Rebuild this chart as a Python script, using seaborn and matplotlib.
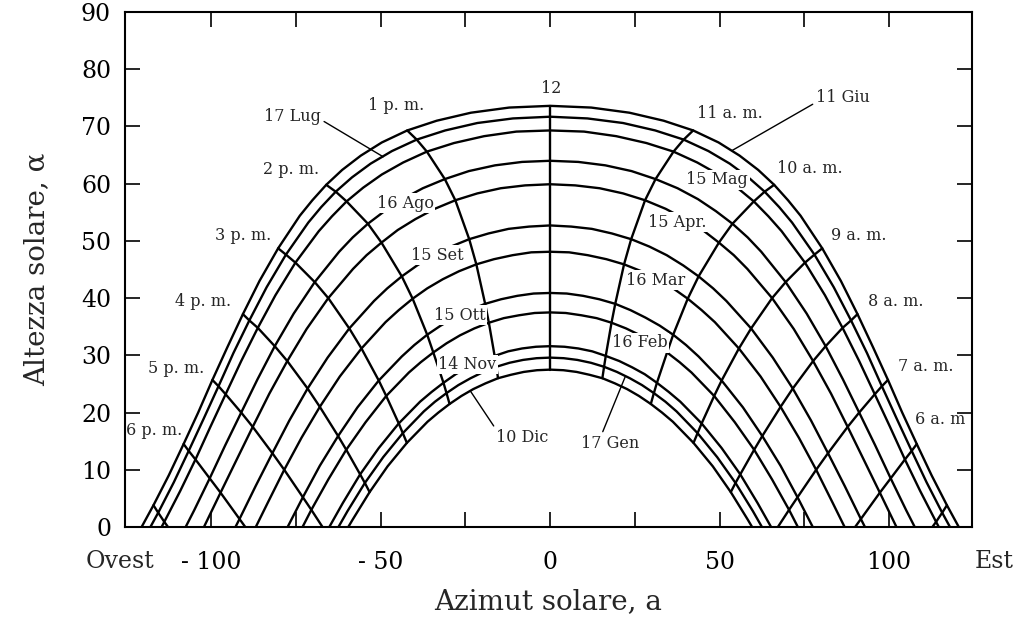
import pandas as pd
import seaborn as sns
import matplotlib
matplotlib.use("Agg")
import matplotlib.pyplot as plt

# ore solari del mattino (il pomeriggio e' simmetrico rispetto a mezzogiorno)
ore = [12.0, 11.75, 11.5, 11.25, 11.0, 10.75, 10.5, 10.25, 10.0, 9.75, 9.5,
       9.0, 8.5, 8.0, 7.5, 7.0, 6.5, 6.0, 5.5, 5.0]

# giorni medi dei mesi, dal piu' basso al piu' alto
giorni = ["10 Dic", "17 Gen", "14 Nov", "16 Feb", "15 Ott", "16 Mar",
          "15 Set", "15 Apr", "16 Ago", "15 Mag", "17 Lug", "11 Giu"]

# azimut (gradi verso est) e altezza solare (gradi)
az_dic = [0, 3.9, 7.8, 11.6, 15.4, 19.1, 22.7, 26.2, 29.7, 33.0, 36.2, 42.3, 48.0, 53.3, 58.3]
alt_dic = [27.5, 27.4, 27.1, 26.6, 26.0, 25.1, 24.1, 22.9, 21.5, 20.0, 18.4, 14.7, 10.6, 6.1, 1.3]
az_gen = [0, 4.0, 8.0, 12.0, 15.9, 19.7, 23.5, 27.1, 30.6, 34.0, 37.3, 43.5, 49.3, 54.7, 59.8]
alt_gen = [29.6, 29.5, 29.2, 28.7, 28.0, 27.1, 26.0, 24.8, 23.4, 21.9, 20.2, 16.4, 12.2, 7.7, 2.8]
az_nov = [0, 4.2, 8.3, 12.4, 16.4, 20.4, 24.2, 27.9, 31.5, 35.0, 38.4, 44.7, 50.6, 56.1, 61.2]
alt_nov = [31.6, 31.5, 31.2, 30.7, 29.9, 29.0, 27.9, 26.7, 25.2, 23.6, 21.9, 18.1, 13.8, 9.2, 4.2]
az_feb = [0, 4.6, 9.2, 13.7, 18.1, 22.4, 26.6, 30.6, 34.5, 38.2, 41.7, 48.4, 54.5, 60.2, 65.5, 70.5]
alt_feb = [37.5, 37.4, 37.0, 36.5, 35.7, 34.7, 33.5, 32.1, 30.5, 28.8, 27.0, 22.9, 18.3, 13.5, 8.3, 3.0]
az_ott = [0, 4.9, 9.7, 14.5, 19.2, 23.7, 28.1, 32.3, 36.3, 40.1, 43.8, 50.6, 56.9, 62.6, 68.0, 73.0]
alt_ott = [40.9, 40.8, 40.4, 39.8, 39.0, 37.9, 36.6, 35.2, 33.6, 31.8, 29.8, 25.6, 20.9, 15.9, 10.7, 5.2]
az_mar = [0, 5.6, 11.1, 16.6, 21.8, 26.9, 31.7, 36.3, 40.6, 44.7, 48.6, 55.7, 62.1, 68.0, 73.4, 78.5, 83.4]
alt_mar = [48.1, 48.0, 47.5, 46.8, 45.9, 44.7, 43.3, 41.7, 39.9, 37.9, 35.8, 31.2, 26.3, 21.0, 15.6, 10.0, 4.2]
az_set = [0, 6.2, 12.3, 18.2, 23.9, 29.3, 34.4, 39.3, 43.8, 48.1, 52.0, 59.3, 65.7, 71.6, 77.0, 82.0,
          86.9, 91.7]
alt_set = [52.7, 52.5, 52.1, 51.3, 50.3, 49.0, 47.5, 45.7, 43.8, 41.7, 39.5, 34.7, 29.6, 24.2, 18.6,
           12.9, 7.2, 1.4]
az_apr = [0, 7.4, 14.6, 21.5, 28.0, 34.1, 39.8, 45.0, 49.8, 54.2, 58.2, 65.5, 71.9, 77.6, 82.9, 87.8,
          92.6, 97.3]
alt_apr = [59.9, 59.7, 59.2, 58.3, 57.1, 55.6, 53.8, 51.9, 49.7, 47.5, 45.1, 40.0, 34.6, 29.0, 23.3,
           17.5, 11.7, 6.0]
az_ago = [0, 8.3, 16.3, 24.0, 31.1, 37.6, 43.6, 48.9, 53.8, 58.3, 62.3, 69.5, 75.7, 81.3, 86.4, 91.2,
          95.9, 100.5, 105.1]
alt_ago = [64.0, 63.8, 63.2, 62.2, 60.8, 59.2, 57.3, 55.2, 53.0, 50.6, 48.1, 42.8, 37.3, 31.6, 25.8,
           20.0, 14.3, 8.5, 2.9]
az_mag = [0, 10.0, 19.5, 28.4, 36.4, 43.4, 49.7, 55.2, 60.1, 64.4, 68.3, 75.2, 81.1, 86.3, 91.2, 95.8,
          100.3, 104.7, 109.2, 113.9]
alt_mag = [69.3, 69.1, 68.3, 67.1, 65.6, 63.7, 61.6, 59.3, 56.9, 54.3, 51.7, 46.2, 40.5, 34.8, 29.0,
           23.2, 17.5, 11.8, 6.3, 0.9]
az_lug = [0, 11.0, 21.5, 31.0, 39.4, 46.7, 53.0, 58.5, 63.3, 67.6, 71.4, 78.0, 83.7, 88.8, 93.5, 97.9,
          102.3, 106.7, 111.1, 115.7]
alt_lug = [71.7, 71.4, 70.6, 69.3, 67.7, 65.7, 63.5, 61.1, 58.6, 55.9, 53.2, 47.6, 41.9, 36.1, 30.4,
           24.6, 18.9, 13.3, 7.8, 2.5]
az_giu = [0, 12.1, 23.4, 33.5, 42.2, 49.7, 55.9, 61.4, 66.1, 70.2, 73.9, 80.3, 85.8, 90.7, 95.3, 99.7,
          103.9, 108.2, 112.6, 117.1]
alt_giu = [73.6, 73.3, 72.4, 71.0, 69.3, 67.2, 64.9, 62.4, 59.8, 57.1, 54.4, 48.7, 43.0, 37.2, 31.4,
           25.7, 20.0, 14.5, 9.0, 3.8]

# azimut dell'alba (altezza zero) per ogni giorno
az_alba = [59.6, 62.5, 65.2, 73.1, 77.5, 86.9, 92.9, 102.2, 107.6, 114.7, 118.0, 120.6]

# dove le linee delle 7, 6 e 5 toccano l'orizzonte
ore_orizzonte = [7.0, 6.0, 5.0]
az_orizzonte = [67.2, 90.0, 112.8]

az_giorni = [az_dic, az_gen, az_nov, az_feb, az_ott, az_mar,
             az_set, az_apr, az_ago, az_mag, az_lug, az_giu]
alt_giorni = [alt_dic, alt_gen, alt_nov, alt_feb, alt_ott, alt_mar,
              alt_set, alt_apr, alt_ago, alt_mag, alt_lug, alt_giu]

# curve dei giorni: alba -> mezzogiorno -> tramonto (a ovest azimut negativo)
righe = []
for g, az, alt, a0 in zip(giorni, az_giorni, alt_giorni, az_alba):
    xs = [a0] + az[::-1] + [-a for a in az[1:]] + [-a0]
    ys = [0] + alt[::-1] + alt[1:] + [0]
    for i, (x, y) in enumerate(zip(xs, ys)):
        righe.append((g, i, x, y))
df_giorni = pd.DataFrame(righe, columns=["giorno", "i", "az", "alt"])

# linee orarie: stessi punti, presi alle ore intere
righe = []
for h in [12.0, 11.0, 10.0, 9.0, 8.0, 7.0, 6.0, 5.0]:
    k = ore.index(h)
    lati = [1] if h == 12.0 else [1, -1]
    for s in lati:
        nome = f"{h}_{s}"
        i = 0
        if h in ore_orizzonte:
            righe.append((nome, i, s * az_orizzonte[ore_orizzonte.index(h)], 0))
            i += 1
        for az, alt in zip(az_giorni, alt_giorni):
            if k < len(az):
                righe.append((nome, i, s * az[k], alt[k]))
                i += 1
df_ore = pd.DataFrame(righe, columns=["linea", "i", "az", "alt"])

sns.set_style("ticks")
plt.rcParams["font.family"] = ["DejaVu Serif"]

fig = plt.figure(figsize=(10.26, 6.28), dpi=100)
ax = fig.add_axes([125 / 1026, 101 / 628, 847 / 1026, 515 / 628])

sns.lineplot(data=df_giorni, x="az", y="alt", units="giorno", estimator=None,
             sort=False, color="black", linewidth=1.7, ax=ax, legend=False)
sns.lineplot(data=df_ore, x="az", y="alt", units="linea", estimator=None,
             sort=False, color="black", linewidth=1.7, ax=ax, legend=False)

ax.set_xlim(-125.5, 124.5)
ax.set_ylim(0, 90)

# etichette delle ore
etichette_ore = [("12", 0.3, 76.7), ("1 p. m.", -45.5, 73.6), ("11 a. m.", 53.1, 72.3),
                 ("2 p. m.", -76.4, 62.5), ("10 a. m.", 76.7, 62.7),
                 ("3 p. m.", -90.6, 51.0), ("9 a. m.", 91.2, 51.0),
                 ("4 p. m.", -102.4, 39.4), ("8 a. m.", 102.1, 39.4),
                 ("5 p. m.", -110.3, 27.7), ("7 a. m.", 110.9, 28.1),
                 ("6 p. m.", -116.8, 16.9)]
for t, x, y in etichette_ore:
    ax.text(x, y, t, ha="center", va="center", fontsize=11.5)
ax.text(107.7, 18.8, "6 a. m", ha="left", va="center", fontsize=11.5)

# etichette dei giorni dentro le curve
etichette_giorni = [("16 Ago", -42.8, 56.6), ("15 Set", -33.3, 47.5),
                    ("15 Ott", -26.8, 37.0), ("14 Nov", -24.5, 28.4),
                    ("15 Mag", 49.3, 60.7), ("15 Apr.", 37.5, 53.3),
                    ("16 Mar", 31.0, 43.1), ("16 Feb", 26.5, 32.2)]
for t, x, y in etichette_giorni:
    ax.text(x, y, t, ha="center", va="center", fontsize=11.5,
            bbox=dict(facecolor="white", edgecolor="none", pad=1.0))

# etichette con linea di richiamo
richiami = [("17 Lug", (-76.1, 71.8), (-49.3, 64.7), (1.0, 0.3)),
            ("11 Giu", (86.4, 75.1), (53.7, 65.8), (0.0, 0.2)),
            ("10 Dic", (-8.3, 15.6), (-23.6, 23.8), (0.0, 1.0)),
            ("17 Gen", (17.7, 14.6), (22.1, 26.2), (0.35, 1.0))]
for t, xt, xy, rp in richiami:
    ax.annotate(t, xy=xy, xytext=xt, ha="center", va="center", fontsize=11.5,
                arrowprops=dict(arrowstyle="-", color="black", lw=1.0,
                                relpos=rp, shrinkA=0, shrinkB=0))

ax.set_xticks([-100, -75, -50, -25, 0, 25, 50, 75, 100])
ax.set_xticklabels(["- 100", "", "- 50", "", "0", "", "50", "", "100"])
ax.set_yticks(range(0, 91, 10))
ax.tick_params(axis="both", direction="in", length=11, width=1.2,
               top=True, right=True, labelsize=17, colors="black")
ax.tick_params(axis="x", pad=17)
ax.tick_params(axis="y", pad=10)

ax.text(-137, -0.045, "Ovest", transform=ax.get_xaxis_transform(),
        ha="left", va="top", fontsize=17)
ax.text(125.4, -0.045, "Est", transform=ax.get_xaxis_transform(),
        ha="left", va="top", fontsize=17)

ax.set_xlabel("Azimut solare, a", fontsize=20)
ax.set_ylabel("Altezza solare, \u03b1", fontsize=20)
ax.xaxis.set_label_coords(0.4994, -0.118)
ax.yaxis.set_label_coords(-0.088, 0.5)

for sp in ax.spines.values():
    sp.set_linewidth(1.5)
    sp.set_color("black")

fig.savefig("out.png", dpi=100, facecolor="white")
